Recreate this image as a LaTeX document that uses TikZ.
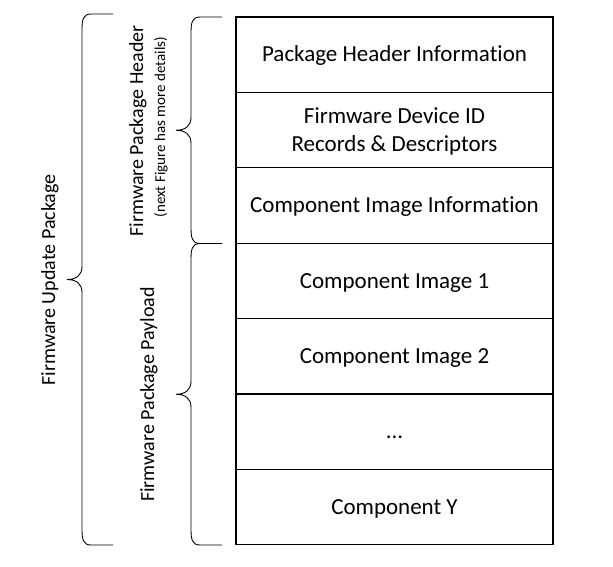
\documentclass[tikz,border=0pt]{standalone}
\usepackage{fontspec}
\setmainfont[Ligatures=NoCommon]{Carlito}
\usetikzlibrary{positioning}

% curly brace opening to the right: end x, top y, bottom y
\newcommand{\sidebrace}[3]{%
  \pgfmathsetmacro{\bv}{#1-31}%
  \pgfmathsetmacro{\bt}{#1-46}%
  \pgfmathsetmacro{\bm}{(#2+#3)/2}%
  \draw[brace line] (#1,#2) -- (\bv+9,#2) .. controls (\bv+1,#2) and (\bv,#2+6) .. (\bv,#2+16)
    -- (\bv,\bm-13) .. controls (\bv,\bm-4) and (\bv-6,\bm) .. (\bt,\bm)
    .. controls (\bv-6,\bm) and (\bv,\bm+4) .. (\bv,\bm+13)
    -- (\bv,#3-16) .. controls (\bv,#3-6) and (\bv+1,#3) .. (\bv+9,#3) -- (#1,#3);
}

\begin{document}
\begin{tikzpicture}[x=1pt,y=-1pt,
  every text node part/.style={align=center},
  layer/.style={draw,line width=1.3pt,outer sep=0pt,inner sep=0pt,
    minimum width=317pt,minimum height=75.4pt,text height=14.5pt,text depth=0pt,
    font=\fontsize{23}{28.3}\selectfont},
  brace line/.style={line width=0.9pt},
  side label/.style={rotate=90,inner sep=0pt,font=\fontsize{20}{24}\selectfont},
  node distance=0pt]

\useasboundingbox (0,0) rectangle (613,566);

% package layers
\node[layer,anchor=north west](phi) at (236,17){Package Header Information};
\node[layer,below=of phi,text height=42.8pt](fdid){Firmware Device ID\\Records \& Descriptors};
\node[layer,below=of fdid](cii){Component Image Information};
\node[layer,below=of cii](ci1){Component Image 1};
\node[layer,below=of ci1](ci2){Component Image 2};
\node[layer,below=of ci2](cdots){...};
\node[layer,below=of cdots](ciy){Component Y};

% braces
\sidebrace{113}{14}{545}
\sidebrace{222}{17}{243.5}
\sidebrace{222}{243.5}{545}

% labels
\node[side label](fup) at (50,280){Firmware Update Package};
\node[side label](fph) at (138,131){Firmware Package Header};
\node[side label,font=\fontsize{15}{18}\selectfont](fphn) at (161,127){(next Figure has more details)};
\node[side label](fpp) at (149,394.5){Firmware Package Payload};

\end{tikzpicture}
\end{document}
